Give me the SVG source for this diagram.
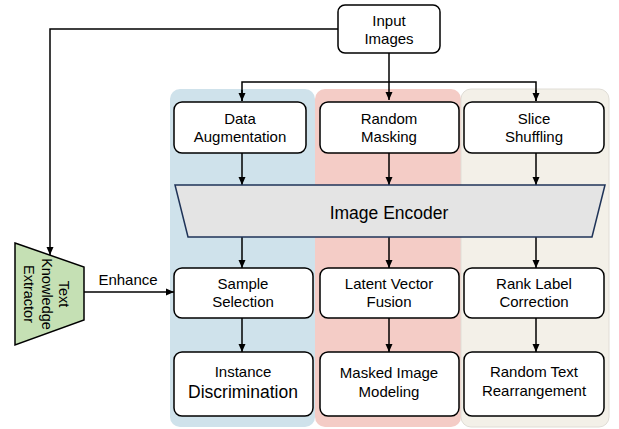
<svg xmlns="http://www.w3.org/2000/svg" width="619" height="429" viewBox="0 0 619 429">
<style>
.box{fill:#fff;stroke:#000;stroke-width:1.5}
.t{font-family:"Liberation Sans",Arial,sans-serif;font-size:15px;fill:#000;text-anchor:middle}
.c{fill:none;stroke:#000;stroke-width:1.5}
</style>
<defs>
<marker id="ah" viewBox="0 0 8 8" refX="8" refY="4" markerWidth="8" markerHeight="8" markerUnits="userSpaceOnUse" orient="auto">
<path d="M0,0.5 L8,4 L0,7.5 Z" fill="#000"/>
</marker>
</defs>
<g id="panels">
<rect x="170" y="89" width="145" height="338" rx="10" fill="#cfe2eb"/>
<rect x="315" y="89" width="146" height="338" rx="10" fill="#f4ccc6"/>
<rect x="461" y="89" width="148" height="338" rx="10" fill="#f3f0e8" stroke="#e0ddd6" stroke-width="1"/>
</g>
<g id="connectors">
<path class="c" d="M389,53 V100" marker-end="url(#ah)"/>
<path class="c" d="M242,101 V82 H536 V101" />
<path class="c" d="M242,90 V101" marker-end="url(#ah)"/>
<path class="c" d="M536,90 V101" marker-end="url(#ah)"/>
<path class="c" d="M338,29 H50 V255" marker-end="url(#ah)"/>
<path class="c" d="M242,153 V185" marker-end="url(#ah)"/>
<path class="c" d="M389,153 V185" marker-end="url(#ah)"/>
<path class="c" d="M536,153 V185" marker-end="url(#ah)"/>
<path class="c" d="M242,237 V268" marker-end="url(#ah)"/>
<path class="c" d="M389,237 V268" marker-end="url(#ah)"/>
<path class="c" d="M536,237 V268" marker-end="url(#ah)"/>
<path class="c" d="M242,318 V352" marker-end="url(#ah)"/>
<path class="c" d="M389,318 V352" marker-end="url(#ah)"/>
<path class="c" d="M536,318 V352" marker-end="url(#ah)"/>
<path class="c" d="M84,292 H174" marker-end="url(#ah)"/>
<text class="t" x="128" y="285">Enhance</text>
</g>
<g id="input">
<rect class="box" x="338" y="5" width="102" height="48" rx="7"/>
<text class="t" x="389" y="26">Input</text>
<text class="t" x="389" y="44">Images</text>
</g>
<g id="data-aug">
<rect class="box" x="174" y="102" width="132" height="51" rx="8"/>
<text class="t" x="240" y="124">Data</text>
<text class="t" x="240" y="142">Augmentation</text>
</g>
<g id="random-masking">
<rect class="box" x="320" y="102" width="139" height="51" rx="8"/>
<text class="t" x="389" y="124">Random</text>
<text class="t" x="389" y="142">Masking</text>
</g>
<g id="slice-shuffling">
<rect class="box" x="464" y="102" width="140" height="51" rx="8"/>
<text class="t" x="534" y="124">Slice</text>
<text class="t" x="534" y="142">Shuffling</text>
</g>
<g id="encoder">
<path d="M175,185 H605 L592,237 H188 Z" fill="#e4e4e4" stroke="#1f3358" stroke-width="1.5"/>
<text class="t" x="389" y="219" style="font-size:17.5px">Image Encoder</text>
</g>
<g id="extractor">
<path d="M15,243 L84,267 V320 L15,345 Z" fill="#c5e0b4" stroke="#000" stroke-width="1.5"/>
<g transform="translate(50,294) rotate(90)">
<text class="t" x="0" y="-8.5" style="font-size:14.5px">Text</text>
<text class="t" x="0" y="8.5" style="font-size:14.5px">Knowledge</text>
<text class="t" x="0" y="26" style="font-size:14.5px">Extractor</text>
</g>
</g>
<g id="sample-selection">
<rect class="box" x="174" y="268" width="139" height="50" rx="8"/>
<text class="t" x="243" y="289">Sample</text>
<text class="t" x="243" y="307">Selection</text>
</g>
<g id="latent-fusion">
<rect class="box" x="320" y="268" width="139" height="50" rx="8"/>
<text class="t" x="389" y="289">Latent Vector</text>
<text class="t" x="389" y="307">Fusion</text>
</g>
<g id="rank-label">
<rect class="box" x="464" y="268" width="140" height="50" rx="8"/>
<text class="t" x="534" y="289">Rank Label</text>
<text class="t" x="534" y="307">Correction</text>
</g>
<g id="instance-disc">
<rect class="box" x="174" y="352" width="139" height="64" rx="8"/>
<text class="t" x="243" y="377">Instance</text>
<text class="t" x="243" y="398" style="font-size:17.5px">Discrimination</text>
</g>
<g id="masked-modeling">
<rect class="box" x="320" y="352" width="139" height="64" rx="8"/>
<text class="t" x="389" y="378">Masked Image</text>
<text class="t" x="389" y="397">Modeling</text>
</g>
<g id="random-text">
<rect class="box" x="464" y="352" width="140" height="64" rx="8"/>
<text class="t" x="534" y="377">Random Text</text>
<text class="t" x="534" y="396">Rearrangement</text>
</g>
</svg>
